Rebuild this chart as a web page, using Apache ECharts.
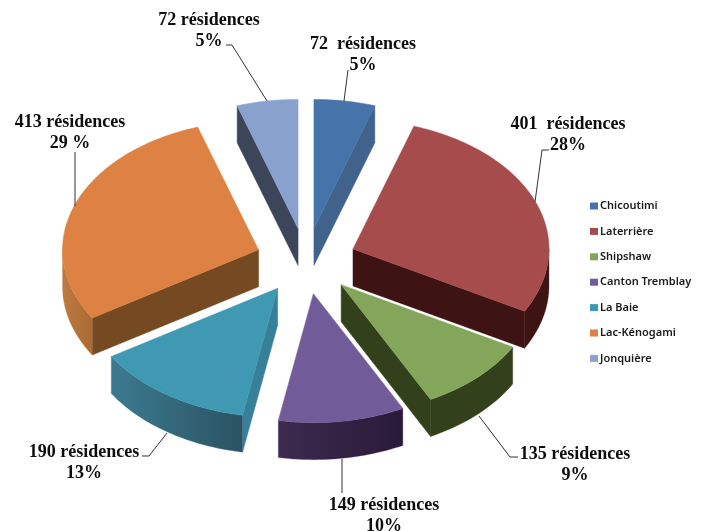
<!DOCTYPE html>
<html><head><meta charset="utf-8">
<style>html,body{margin:0;padding:0;background:#fff}#c{width:703px;height:531px}</style>
<script src="https://cdn.jsdelivr.net/npm/echarts@6/dist/echarts.min.js"></script>
</head><body><div id="c"></div>
<script>
const categories = ['Chicoutimi','Laterrière','Shipshaw','Canton Tremblay','La Baie','Lac-Kénogami','Jonquière'];
const residences = [72,401,135,149,190,413,72];
const labels = ['72  résidences\n5%','401  résidences\n28%','135 résidences\n9%','149 résidences\n10%','190 résidences\n13%','413 résidences\n29 %','72 résidences\n5%'];

const topColors = ['#4674aa','#a64c4c','#84a65a','#715b99','#3f99b3','#de8244','#89a2cd'];
const radialColors = ['#41628b','#3e1313','#33401c','#2d1d3d','#38809a','#754a22','#3c4559'];
const arcColors = [['#41628b','#41628b'],['#3e1313','#3e1313'],['#33401c','#33401c'],['#3d2a50','#2a1a38'],['#3c7a90','#2b5362'],['#bd7a42','#ab6a34'],['#3c4559','#3c4559']];
const labelLayout = [
  {x:363,y:55,line:[[348,70],[344,101]]},
  {x:568,y:135,line:[[549,150],[542,150],[535,202]]},
  {x:575,y:465,line:[[518,457],[510,457],[479,416]]},
  {x:384,y:516,line:[[342,459],[342,493]]},
  {x:84,y:463,line:[[142,456],[149,456],[167,433]]},
  {x:70,y:133,line:[[75,152],[75,206]]},
  {x:209,y:31,line:[[226,45],[232,45],[267,101]]}
];
const pie = {cx:306,cy:261,rx:196,ry:129,ex:50.5,ey:33,depth:37};

const total = residences.reduce((a,b)=>a+b,0);
const rad = d=>d*Math.PI/180;
function renderSlice(params, api){
  const i = params.seriesIndex;
  const before = residences.slice(0,i).reduce((a,b)=>a+b,0);
  const a0 = before/total*360, a1 = (before+api.value(0))/total*360;
  const mid = rad((a0+a1)/2);
  const tx = pie.cx+pie.ex*Math.sin(mid), ty = pie.cy-pie.ey*Math.cos(mid);
  const pt = (deg,dz=0)=>[tx+pie.rx*Math.sin(rad(deg)), ty-pie.ry*Math.cos(rad(deg))+dz];
  const arc = (s,e,dz=0)=>{const n=Math.max(2,Math.ceil(Math.abs(e-s)/1.5));const r=[];for(let k=0;k<=n;k++)r.push(pt(s+(e-s)*k/n,dz));return r;};
  const children=[];
  const d=pie.depth;
  const face=(deg)=>({type:'polygon',shape:{points:[[tx,ty],pt(deg),pt(deg,d),[tx,ty+d]]},style:{fill:radialColors[i],stroke:radialColors[i],lineWidth:0.5}});
  if(Math.sin(rad(a0))<-1e-6) children.push(face(a0));
  if(Math.sin(rad(a1))>1e-6) children.push(face(a1));
  const s=Math.max(a0,90), e=Math.min(a1,270);
  if(e>s){
    const p=arc(s,e).concat(arc(e,s,d));
    const xs=p.map(q=>q[0]);
    const x0=Math.min(...xs), x1=Math.max(...xs);
    children.push({type:'polygon',shape:{points:p},style:{
      fill:new echarts.graphic.LinearGradient(x0,0,x1,0,[{offset:0,color:arcColors[i][0]},{offset:1,color:arcColors[i][1]}],true),
      stroke:arcColors[i][0],lineWidth:0.3}});
  }
  children.push({type:'polygon',shape:{points:[[tx,ty]].concat(arc(a0,a1))},style:{fill:topColors[i],stroke:topColors[i],lineWidth:0.5}});
  return {type:'group',children};
}
const chart = echarts.init(document.getElementById('c'),null,{renderer:'canvas'});
const graphic=[];
labels.forEach((t,i)=>{
  const l=labelLayout[i];
  graphic.push({type:'polyline',silent:true,z:5,shape:{points:l.line},style:{stroke:'#333',lineWidth:1,fill:null}});
  graphic.push({type:'text',silent:true,z:6,x:l.x,y:l.y,style:{text:t,align:'center',verticalAlign:'middle',fill:'#0d0d0d',
    font:'bold 18px "Liberation Serif"',lineHeight:21}});
});
chart.setOption({
  backgroundColor:'#fff',
  animation:false,
  legend:{orient:'vertical',left:585,top:195,itemWidth:8,itemHeight:7,itemGap:13.4,icon:'rect',
    textStyle:{fontFamily:'"Noto Sans"',fontSize:11,fontWeight:600,color:'#1a1a1a',lineHeight:12,padding:[0,0,0,-3]},
    data:categories,selectedMode:false},
  graphic,
  series:categories.map((name,i)=>({type:'custom',name,coordinateSystem:'none',silent:true,clip:false,
    itemStyle:{color:topColors[i]},renderItem:renderSlice,data:[[residences[i]]]}))
});
</script></body></html>
